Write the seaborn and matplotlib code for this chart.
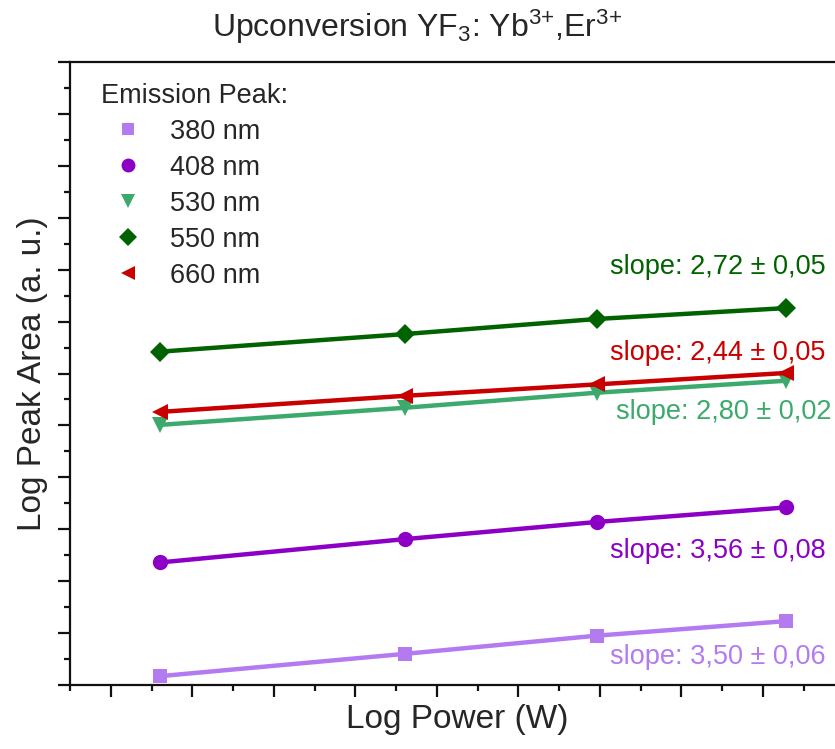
import numpy as np
import pandas as pd
import matplotlib
matplotlib.use("Agg")
import matplotlib.pyplot as plt
from matplotlib.lines import Line2D
from matplotlib.ticker import MultipleLocator, NullFormatter
import seaborn as sns

# ---- data (arbitrary log units) ----
log_power = [0.60, 3.61, 5.96, 8.28]
peaks = ["380 nm", "408 nm", "530 nm", "550 nm", "660 nm"]
area_380 = [0.17, 0.60, 0.95, 1.23]
area_408 = [2.36, 2.81, 3.14, 3.42]
area_530 = [5.01, 5.34, 5.63, 5.86]
area_550 = [6.42, 6.76, 7.05, 7.26]
area_660 = [5.26, 5.57, 5.79, 6.01]
slope_labels = ["slope: 3,50 ± 0,06", "slope: 3,56 ± 0,08", "slope: 2,80 ± 0,02",
                "slope: 2,72 ± 0,05", "slope: 2,44 ± 0,05"]

colors = {"380 nm": "#b47bf0", "408 nm": "#8c00c6", "530 nm": "#3caa6c",
          "550 nm": "#006300", "660 nm": "#c80000"}
markers = {"380 nm": "s", "408 nm": "o", "530 nm": "v", "550 nm": "D", "660 nm": "<"}
msizes = {"380 nm": 10, "408 nm": 11, "530 nm": 11, "550 nm": 10, "660 nm": 11}
label_pos = {"380 nm": (7.45, 0.54), "408 nm": (7.45, 2.58), "530 nm": (7.52, 5.26),
             "550 nm": (7.45, 8.05), "660 nm": (7.45, 6.40)}

series = [area_380, area_408, area_530, area_550, area_660]
df = pd.concat([pd.DataFrame({"power": log_power, "area": s, "peak": p})
                for p, s in zip(peaks, series)], ignore_index=True)

sns.set_style("ticks")
plt.rcParams["font.family"] = ["Liberation Sans", "DejaVu Sans"]
plt.rcParams["mathtext.fontset"] = "custom"
plt.rcParams["mathtext.rm"] = "Liberation Sans"
plt.rcParams["mathtext.it"] = "Liberation Sans"

FS = 19.5

fig = plt.figure(figsize=(8.35, 7.49), dpi=100)
W, H = 835, 749
left_px, right_px, top_px, bot_px = 70, 844.5, 62, 685
ax = fig.add_axes([left_px / W, (H - bot_px) / H, (right_px - left_px) / W, (bot_px - top_px) / H])

for p in peaks:
    sub = df[df["peak"] == p]
    sns.lineplot(data=sub, x="power", y="area", ax=ax, color=colors[p], lw=3.2,
                 marker=markers[p], markersize=msizes[p], markeredgewidth=0,
                 markeredgecolor=colors[p], legend=False, zorder=3)

for p, lab in zip(peaks, slope_labels):
    x, y = label_pos[p]
    ax.text(x, y, lab, color=colors[p], fontsize=FS, ha="center", va="center")

ax.set_xlim(-0.5, 9.0)
ax.set_ylim(0, 12)
ax.xaxis.set_major_locator(MultipleLocator(1))
ax.xaxis.set_minor_locator(MultipleLocator(0.5))
ax.yaxis.set_major_locator(MultipleLocator(1))
ax.yaxis.set_minor_locator(MultipleLocator(0.5))
ax.xaxis.set_major_formatter(NullFormatter())
ax.yaxis.set_major_formatter(NullFormatter())
ax.tick_params(which="major", direction="out", length=8.6, width=1.6, color="#111111")
ax.tick_params(which="minor", direction="out", length=4.5, width=1.6, color="#111111")
ax.tick_params(top=False, right=False, which="both")
for s in ax.spines.values():
    s.set_linewidth(1.6)
    s.set_color("#111111")

ax.set_xlabel("Log Power (W)", fontsize=24)
ax.set_ylabel("Log Peak Area (a. u.)", fontsize=24)
ax.xaxis.set_label_coords(0.5, -0.031)
ax.yaxis.set_label_coords(-0.028, 0.5)

fig.text(0.5, (H - 37) / H, r"Upconversion YF$_3$: Yb$^{3{+}}$,Er$^{3{+}}$",
         ha="center", va="baseline", fontsize=23)

handles = [Line2D([], [], linestyle="none", marker=markers[p], color=colors[p],
                  markersize=msizes[p] - 1, markeredgewidth=0) for p in peaks]
leg = ax.legend(handles, peaks, title="Emission Peak:", loc="upper left",
                frameon=False, fontsize=FS, title_fontsize=FS,
                bbox_to_anchor=(0.015, 0.997), handletextpad=0.55,
                labelspacing=0.37, handlelength=2.0, borderaxespad=0.3)
leg._legend_box.align = "left"

fig.savefig("out.png", dpi=100)
